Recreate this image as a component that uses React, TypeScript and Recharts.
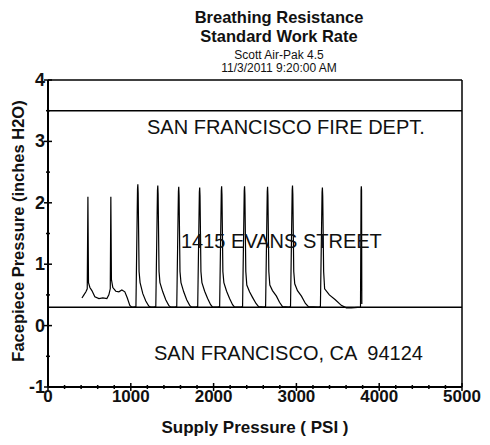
import { LineChart, Line, XAxis, YAxis, ReferenceLine } from 'recharts';

// supply pressure (psi) vs facepiece pressure (inches H2O)
const trace: [number, number][] = [
  [410, 0.45], [434, 0.5], [458, 0.55], [474, 0.6],
  [482, 2.1], [489, 0.7], [506, 0.62], [530, 0.57], [566, 0.47], [615, 0.44],
  [663, 0.45], [711, 0.44], [735, 0.5], [752, 0.6],
  [759, 2.1], [766, 0.75], [783, 0.62], [819, 0.56], [856, 0.55], [892, 0.58],
  [928, 0.55], [958, 0.45], [988, 0.33], [1012, 0.3], [1040, 0.3], [1062, 0.31],
  [1081, 2.22], [1085, 2.3], [1089, 2.16], [1100, 0.88], [1112, 0.7], [1145, 0.52],
  [1181, 0.4], [1217, 0.32], [1241, 0.3], [1280, 0.3], [1302, 0.31],
  [1322, 2.2], [1326, 2.28], [1330, 2.14], [1341, 0.88], [1352, 0.7], [1386, 0.55],
  [1422, 0.42], [1458, 0.33], [1482, 0.3], [1534, 0.3], [1555, 0.31],
  [1575, 2.18], [1579, 2.26], [1583, 2.12], [1594, 0.88], [1606, 0.7], [1639, 0.55],
  [1675, 0.42], [1711, 0.33], [1735, 0.3], [1787, 0.3], [1808, 0.31],
  [1828, 2.17], [1832, 2.25], [1836, 2.11], [1847, 0.88], [1859, 0.7], [1892, 0.56],
  [1928, 0.44], [1964, 0.34], [1988, 0.3], [2052, 0.3], [2073, 0.31],
  [2093, 2.19], [2097, 2.27], [2101, 2.13], [2112, 0.88], [2124, 0.7], [2157, 0.56],
  [2193, 0.44], [2229, 0.34], [2253, 0.3], [2329, 0.3], [2350, 0.31],
  [2370, 2.19], [2374, 2.27], [2378, 2.13], [2389, 0.88], [2401, 0.66], [2434, 0.55],
  [2470, 0.46], [2512, 0.36], [2543, 0.31], [2607, 0.3], [2628, 0.31],
  [2648, 2.18], [2652, 2.26], [2656, 2.12], [2667, 0.88], [2679, 0.66], [2711, 0.57],
  [2759, 0.48], [2796, 0.38], [2832, 0.31], [2908, 0.3], [2929, 0.31],
  [2949, 2.2], [2953, 2.28], [2957, 2.14], [2968, 0.88], [2980, 0.68], [3013, 0.57],
  [3061, 0.48], [3109, 0.36], [3145, 0.31], [3269, 0.3], [3290, 0.31],
  [3310, 2.17], [3314, 2.25], [3318, 2.11], [3329, 0.88], [3341, 0.6], [3398, 0.5],
  [3470, 0.42], [3542, 0.33], [3603, 0.29], [3663, 0.29], [3774, 0.3],
  [3781, 2.2], [3784, 2.27], [3787, 2.2], [3790, 0.35],
];

const xTicks = [0, 200, 400, 600, 800, 1000, 1200, 1400, 1600, 1800, 2000, 2200, 2400,
  2600, 2800, 3000, 3200, 3400, 3600, 3800, 4000, 4200, 4400, 4600, 4800, 5000];
const yTicks = [-1, -0.5, 0, 0.5, 1, 1.5, 2, 2.5, 3, 3.5, 4];

const upperLimit = 3.5;
const lowerLimit = 0.3;

const titleLines = ['Breathing Resistance', 'Standard Work Rate'];
const subLines = ['Scott Air-Pak 4.5', '11/3/2011 9:20:00 AM'];

const data = trace.map(([psi, h2o]) => ({ psi, h2o }));

const font = '"Liberation Sans", Arial, sans-serif';

// eslint-disable-next-line @typescript-eslint/no-explicit-any
function XTick({ x, y, payload }: any) {
  const major = payload.value % 1000 === 0;
  const len = major ? 4 : 2;
  return (
    <g>
      <line x1={x} x2={x} y1={y - len} y2={y + len} stroke="#000" strokeWidth={1.5} />
      {major && (
        <text x={x} y={y + 15} textAnchor="middle" fontFamily={font} fontWeight="bold" fontSize={17} fill="#111">
          {payload.value}
        </text>
      )}
    </g>
  );
}

// eslint-disable-next-line @typescript-eslint/no-explicit-any
function YTick({ x, y, payload }: any) {
  const major = Number.isInteger(payload.value);
  const len = major ? 4 : 2;
  return (
    <g>
      <line x1={x - len} x2={x + len} y1={y} y2={y} stroke="#000" strokeWidth={1.5} />
      {major && (
        <text x={x - 3} y={y + 6} textAnchor="end" fontFamily={font} fontWeight="bold" fontSize={18} fill="#111">
          {payload.value}
        </text>
      )}
    </g>
  );
}

const overlay = (text: string, left: number, top: number) => (
  <div
    style={{
      position: 'absolute', left, top, fontFamily: font, fontSize: 20,
      color: '#111', whiteSpace: 'pre', lineHeight: '20px',
    }}
  >
    {text}
  </div>
);

export default function App() {
  return (
    <div style={{ position: 'absolute', left: 0, top: 0, width: 490, height: 445, background: '#fff' }}>
      <div style={{ position: 'absolute', left: 179, width: 200, top: 8, textAlign: 'center', fontFamily: font, color: '#111' }}>
        {titleLines.map((t) => (
          <div key={t} style={{ fontSize: 16.5, fontWeight: 'bold', lineHeight: '19px' }}>{t}</div>
        ))}
        <div style={{ height: 3 }} />
        {subLines.map((t) => (
          <div key={t} style={{ fontSize: 12, lineHeight: '13px' }}>{t}</div>
        ))}
      </div>
      <LineChart
        width={490}
        height={445}
        data={data}
        margin={{ top: 80, right: 28, bottom: 0, left: 0 }}
        style={{ position: 'absolute', left: 0, top: 0 }}
      >
        <XAxis
          dataKey="psi"
          type="number"
          domain={[0, 5000]}
          ticks={xTicks}
          interval={0}
          height={58}
          tickSize={0}
          tickMargin={0}
          tickLine={false}
          tick={<XTick />}
          axisLine={{ stroke: '#000', strokeWidth: 2 }}
          label={{
            value: 'Supply Pressure ( PSI )', position: 'insideBottom', offset: 12,
            style: { fontFamily: font, fontWeight: 'bold', fontSize: 17, fill: '#111' },
          }}
        />
        <YAxis
          type="number"
          domain={[-1, 4]}
          ticks={yTicks}
          interval={0}
          width={48}
          tickSize={0}
          tickMargin={0}
          tickLine={false}
          tick={<YTick />}
          axisLine={{ stroke: '#000', strokeWidth: 2 }}
        />
        <ReferenceLine y={4} stroke="#000" strokeWidth={1.5} />
        <ReferenceLine x={5000} stroke="#000" strokeWidth={1.5} />
        <ReferenceLine y={upperLimit} stroke="#000" strokeWidth={1.5} />
        <ReferenceLine y={lowerLimit} stroke="#000" strokeWidth={1.5} />
        <Line
          type="linear"
          dataKey="h2o"
          stroke="#000"
          strokeWidth={1.2}
          dot={false}
          isAnimationActive={false}
        />
      </LineChart>
      <div
        style={{
          position: 'absolute', left: 18, top: 231, width: 300, marginLeft: -150, marginTop: -10,
          textAlign: 'center', transform: 'rotate(-90deg)', fontFamily: font, fontWeight: 'bold',
          fontSize: 16.5, lineHeight: '20px', color: '#111', whiteSpace: 'nowrap',
        }}
      >
        Facepiece Pressure (inches H2O)
      </div>
      {overlay('SAN FRANCISCO FIRE DEPT.', 147, 117)}
      {overlay('1415 EVANS STREET', 181, 231)}
      {overlay('SAN FRANCISCO, CA  94124', 154, 343)}
    </div>
  );
}
